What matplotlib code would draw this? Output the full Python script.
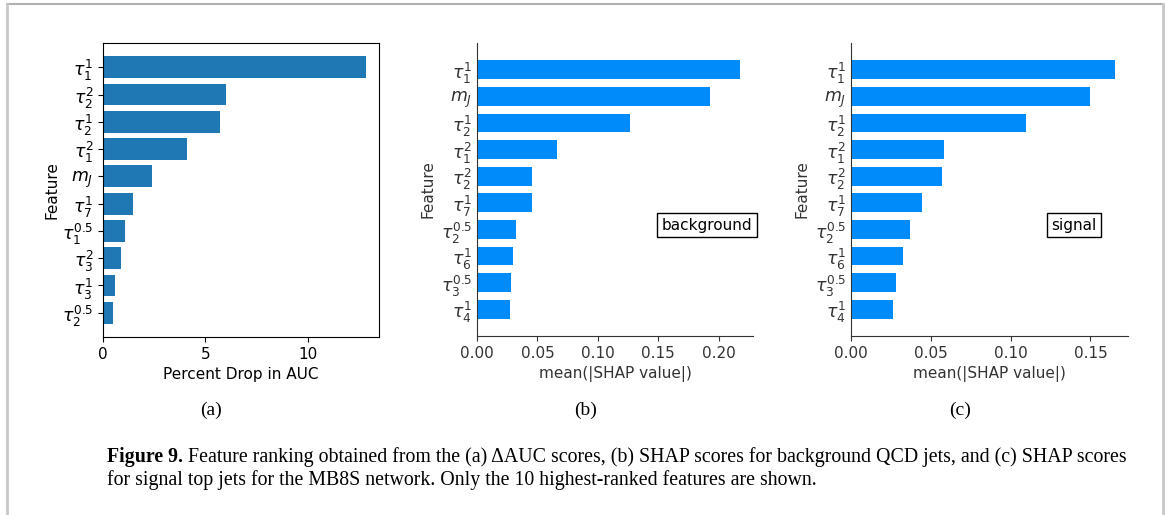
import matplotlib
matplotlib.use("Agg")
import matplotlib.pyplot as plt
from matplotlib.lines import Line2D

# Feature rankings, ordered from highest to lowest
auc_features = [r"$\tau_1^1$", r"$\tau_2^2$", r"$\tau_2^1$", r"$\tau_1^2$", r"$m_J$",
                r"$\tau_7^1$", r"$\tau_1^{0.5}$", r"$\tau_3^2$", r"$\tau_3^1$", r"$\tau_2^{0.5}$"]
auc_drop = [12.85, 6.0, 5.7, 4.13, 2.4, 1.48, 1.09, 0.86, 0.57, 0.47]

bkg_features = [r"$\tau_1^1$", r"$m_J$", r"$\tau_2^1$", r"$\tau_1^2$", r"$\tau_2^2$",
                r"$\tau_7^1$", r"$\tau_2^{0.5}$", r"$\tau_6^1$", r"$\tau_3^{0.5}$", r"$\tau_4^1$"]
bkg_shap = [0.2175, 0.193, 0.127, 0.066, 0.0459, 0.0455, 0.0326, 0.0296, 0.0285, 0.0276]

sig_features = [r"$\tau_1^1$", r"$m_J$", r"$\tau_2^1$", r"$\tau_1^2$", r"$\tau_2^2$",
                r"$\tau_7^1$", r"$\tau_2^{0.5}$", r"$\tau_6^1$", r"$\tau_3^{0.5}$", r"$\tau_4^1$"]
sig_shap = [0.1653, 0.150, 0.1097, 0.0584, 0.0571, 0.0448, 0.0372, 0.0324, 0.0284, 0.0262]

SHAP_BLUE = "#008bfb"
GREY = "#333333"

fig = plt.figure(figsize=(11.67, 5.15), dpi=100)

# page frame
fig.add_artist(Line2D([7/1167, 1163/1167], [511/515, 511/515], color="#b0b0b0", lw=1.5))
fig.add_artist(Line2D([7/1167, 7/1167], [0, 511/515], color="#c8c8c8", lw=2))
fig.add_artist(Line2D([1163/1167, 1163/1167], [0, 511/515], color="#c8c8c8", lw=2))

# (a) percent drop in AUC
ax1 = fig.add_axes([103/1167, 178/515, 276/1167, 294/515])
n = len(auc_drop)
ypos = list(range(n))[::-1]
ax1.barh(ypos, auc_drop, color="tab:blue")
ax1.set_yticks(ypos)
ax1.set_yticklabels(auc_features, fontsize=12.5)
ax1.set_xticks([0, 5, 10])
ax1.tick_params(axis="x", labelsize=11)
ax1.set_xlabel("Percent Drop in AUC", fontsize=11)
ax1.set_ylabel("Feature", fontsize=11, labelpad=2)


def shap_panel(rect, features, vals, tag):
    ax = fig.add_axes(rect)
    pos = list(range(len(vals)))[::-1]
    ax.barh(pos, vals, height=0.7, color=SHAP_BLUE)
    ax.set_yticks(pos)
    ax.set_yticklabels(features, fontsize=12.5, color=GREY)
    ax.set_ylim(-1, len(vals))
    ax.spines["right"].set_visible(False)
    ax.spines["top"].set_visible(False)
    ax.spines["left"].set_color(GREY)
    ax.spines["bottom"].set_color(GREY)
    ax.tick_params(axis="y", length=0)
    ax.tick_params(axis="x", labelsize=11, labelcolor=GREY, color=GREY)
    ax.set_xlabel("mean(|SHAP value|)", fontsize=11, color=GREY)
    ax.set_ylabel("Feature", fontsize=11, color=GREY)
    ax.text(tag[1], 0.378, tag[0], transform=ax.transAxes, ha="center", va="center",
            fontsize=11, bbox=dict(boxstyle="square,pad=0.3", fc="white", ec="black", lw=1))
    return ax


ax2 = shap_panel([477/1167, 179/515, 276/1167, 293/515], bkg_features, bkg_shap, ("background", 0.833))
ax2.set_xticks([0.0, 0.05, 0.10, 0.15, 0.20])
ax2.xaxis.set_major_formatter(matplotlib.ticker.FormatStrFormatter("%.2f"))

ax3 = shap_panel([851/1167, 179/515, 277/1167, 293/515], sig_features, sig_shap, ("signal", 0.805))
ax3.set_xticks([0.0, 0.05, 0.10, 0.15])
ax3.xaxis.set_major_formatter(matplotlib.ticker.FormatStrFormatter("%.2f"))

# sub-figure tags
serif = "Liberation Serif"
for x, t in [(211, "(a)"), (586, "(b)"), (960, "(c)")]:
    fig.text(x/1167, 1 - 410/515, t, ha="center", va="center", fontsize=14, family=serif)

# caption
cap_fs = 14.3
cap_y1 = 1 - 462/515
cap_y2 = 1 - 485/515
head = fig.text(107/1167, cap_y1, "Figure 9.", fontsize=cap_fs, family=serif,
                fontweight="bold", va="baseline")
ax1.annotate(" Feature ranking obtained from the (a) \u0394AUC scores, (b) SHAP scores for background "
             "QCD jets, and (c) SHAP scores",
             xy=(1, 0), xycoords=head, va="bottom", ha="left", fontsize=cap_fs, family=serif,
             annotation_clip=False)
fig.text(107/1167, cap_y2, "for signal top jets for the MB8S network. Only the 10 highest-ranked "
         "features are shown.", fontsize=cap_fs, family=serif, va="baseline")

fig.savefig("out.png", dpi=100)
